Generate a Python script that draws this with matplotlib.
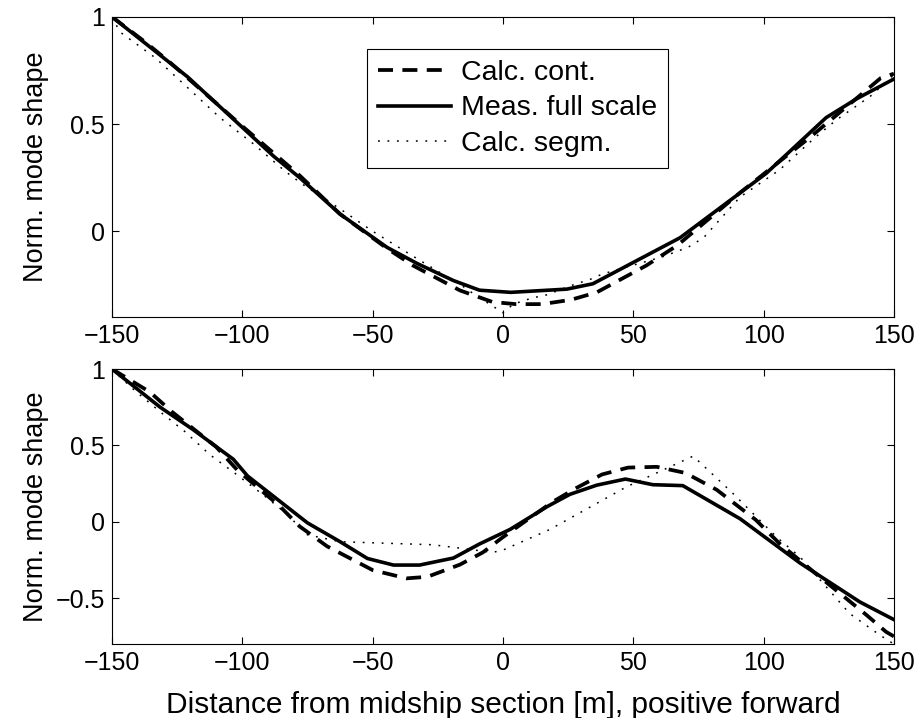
import numpy as np
import matplotlib
matplotlib.use("Agg")
import matplotlib.pyplot as plt

plt.rcParams['font.family'] = ['Liberation Sans', 'DejaVu Sans']
plt.rcParams['font.size'] = 16
plt.rcParams['axes.unicode_minus'] = True

# ---- data ----
# top panel (mode 1)
cont_top_x = [-150, -137, -128, -100, -78, -62.5, -44.5, -34.5, -16.5, -4, 5, 15, 26, 36, 55, 67, 91, 118, 145, 150]
cont_top_y = [1.0, 0.88, 0.79, 0.49, 0.26, 0.08, -0.08, -0.16, -0.276, -0.33, -0.34, -0.34, -0.32, -0.285, -0.16, -0.065, 0.18, 0.44, 0.715, 0.735]

meas_top_x = [-150, -121, -88, -78, -62.5, -44.5, -33, -19, -9, 3, 24.5, 34.5, 68, 101, 124, 136, 150]
meas_top_y = [1.0, 0.72, 0.35, 0.25, 0.08, -0.075, -0.15, -0.23, -0.275, -0.285, -0.27, -0.245, -0.03, 0.27, 0.53, 0.62, 0.71]

segm_top_x = [-150, -147, -133.5, -121, -108.6, -96, -83.6, -77, -62, -50, -38, -32, -15, -11.5, 0, 4,
              11.5, 16, 27, 34.5, 38, 61, 71, 77, 91, 106, 120, 128, 141, 150]
segm_top_y = [1.0, 0.93, 0.81, 0.67, 0.53, 0.41, 0.28, 0.22, 0.1, 0.0, -0.09, -0.135, -0.26, -0.29, -0.38, -0.34,
              -0.31, -0.30, -0.25, -0.22, -0.2, -0.12, -0.075, -0.03, 0.16, 0.285, 0.44, 0.52, 0.63, 0.73]

# bottom panel (mode 2)
cont_bot_x = [-150, -135.5, -127, -110, -102, -85.5, -78, -67.5, -50, -37, -29, -16.5, -7.7, 0, 19, 28, 38,
              48, 59, 70, 82, 97, 106, 121.5, 139.5, 147, 150]
cont_bot_y = [1.0, 0.85, 0.72, 0.49, 0.34, 0.1, -0.03, -0.16, -0.316, -0.37, -0.36, -0.28, -0.2, -0.1, 0.13, 0.22, 0.31,
              0.355, 0.36, 0.32, 0.21, 0.013, -0.14, -0.36, -0.61, -0.72, -0.75]

meas_bot_x = [-150, -131.5, -119, -103.5, -98, -75, -62.5, -52, -42, -32, -19, -9, 2.7, 17, 25.7, 36, 47,
              57.5, 69, 91, 114, 137, 150]
meas_bot_y = [1.0, 0.75, 0.605, 0.41, 0.30, -0.007, -0.13, -0.24, -0.283, -0.283, -0.237, -0.145, -0.05, 0.1, 0.18, 0.24, 0.28,
              0.243, 0.237, 0.02, -0.27, -0.525, -0.64]

segm_bot_x = [-150, -147, -141, -131.5, -122, -112.5, -103, -93, -83.5, -75, -62.5, -45, -27, -17.5, -4, 0,
              18, 47.5, 73, 88, 105, 114, 133, 144.5, 150]
segm_bot_y = [1.0, 0.95, 0.855, 0.72, 0.59, 0.44, 0.32, 0.19, 0.06, -0.085, -0.13, -0.14, -0.15, -0.17, -0.2, -0.185,
              -0.05, 0.23, 0.43, 0.19, -0.1, -0.23, -0.6, -0.74, -0.8]

labels = ["Calc. cont.", "Meas. full scale", "Calc. segm."]
xticks = [-150, -100, -50, 0, 50, 100, 150]

fig = plt.figure(figsize=(9.22, 7.18), dpi=100)
ax1 = fig.add_axes([0.1215, 0.5585, 0.848, 0.418])
ax2 = fig.add_axes([0.1215, 0.103, 0.848, 0.383])


def draw(ax, cx, cy, mx, my, sx, sy):
    ax.plot(cx, cy, color='k', lw=2.7, linestyle=(0, (4, 2.5)), label=labels[0])
    ax.plot(mx, my, color='k', lw=2.6, linestyle='-', label=labels[1])
    ax.plot(sx, sy, color='k', lw=1.1, linestyle=(0, (1.2, 5)), label=labels[2])
    ax.set_xlim(-150, 150)
    ax.set_xticks(xticks)
    ax.tick_params(direction='in', length=5, width=0.8, top=True, right=True, pad=5, labelsize=18)
    for sp in ax.spines.values():
        sp.set_linewidth(0.8)
    ax.set_ylabel("Norm. mode shape", fontsize=19.5)


draw(ax1, cont_top_x, cont_top_y, meas_top_x, meas_top_y, segm_top_x, segm_top_y)
ax1.set_ylim(-0.4, 1)
ax1.set_yticks([0, 0.5, 1])
ax1.set_yticklabels(["0", "0.5", "1"])

draw(ax2, cont_bot_x, cont_bot_y, meas_bot_x, meas_bot_y, segm_bot_x, segm_bot_y)
ax2.set_ylim(-0.8, 1)
ax2.set_yticks([-0.5, 0, 0.5, 1])
ax2.set_yticklabels(["\u22120.5", "0", "0.5", "1"])
ax2.set_xlabel("Distance from midship section [m], positive forward", fontsize=21.5)
ax2.xaxis.set_label_coords(0.5, -0.172)

for ax in (ax1, ax2):
    ax.set_xticklabels([str(v).replace("-", "\u2212") for v in xticks])
    ax.yaxis.set_label_coords(-0.08, 0.5)

leg = ax1.legend(loc='upper left', bbox_to_anchor=(0.326, 0.893), fontsize=20.5,
                 handlelength=2.56, handletextpad=0.33, borderpad=0.4, labelspacing=0.32,
                 fancybox=False, framealpha=1, edgecolor='k', borderaxespad=0)
leg.get_frame().set_linewidth(0.8)

fig.savefig("out.png", dpi=100)
